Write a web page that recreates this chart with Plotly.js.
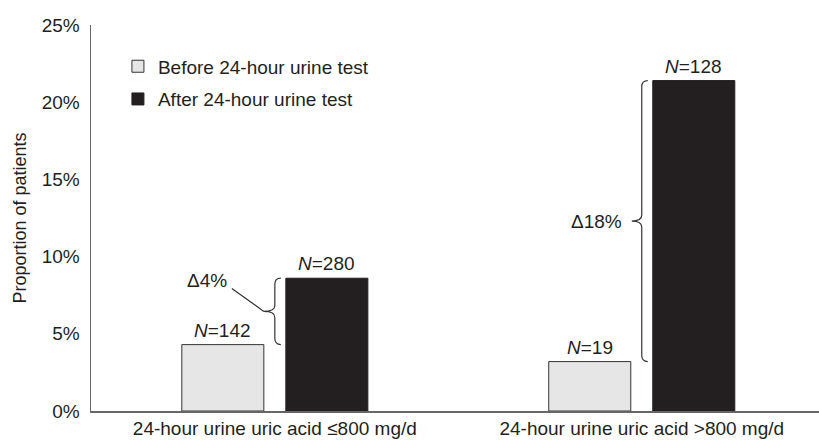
<!DOCTYPE html>
<html><head><meta charset="utf-8">
<script src="https://cdn.plot.ly/plotly-3.0.1.min.js"></script>
<style>html,body{margin:0;padding:0;background:#fff}#chart{width:819px;height:440px}</style>
</head><body><div id="chart"></div>
<script>
const categories = ['24-hour urine uric acid \u2264800 mg/d', '24-hour urine uric acid >800 mg/d'];
const seriesNames = ['Before 24-hour urine test', 'After 24-hour urine test'];
const beforeValues = [4.3, 3.2];
const afterValues = [8.6, 21.4];
const beforeN = [142, 19];
const afterN = [280, 128];
const deltaLabels = ['\u03944%', '\u039418%'];
const yTicks = [0, 5, 10, 15, 20, 25];
const yTickText = ['0%', '5%', '10%', '15%', '20%', '25%'];

const FONT = 'Liberation Sans, Arial, Helvetica, sans-serif';
const TXT = '#231f20';
const FS = 19;
const H = 440, T = 25, B = 29;
const pxPerY = (H - T - B) / 25;
const idx = categories.map((c, i) => i);
const barShift = 0.1417;

const traces = [
  {type: 'bar', name: seriesNames[0], x: idx, y: beforeValues, legendgroup: 'a',
   marker: {color: '#e6e6e6', line: {color: '#333', width: 1}}, hoverinfo: 'y'},
  {type: 'bar', name: seriesNames[1], x: idx, y: afterValues, legendgroup: 'b',
   marker: {color: '#231f20', line: {color: '#231f20', width: 1}}, hoverinfo: 'y'}
];

const annotations = [];
const shapes = [];
idx.forEach(i => {
  annotations.push({x: i - barShift, y: beforeValues[i], xref: 'x', yref: 'y', yanchor: 'bottom', yshift: 2,
    text: '<i>N</i>=' + beforeN[i], showarrow: false, font: {size: FS, color: TXT, family: FONT}});
  annotations.push({x: i + barShift, y: afterValues[i], xref: 'x', yref: 'y', yanchor: 'bottom', yshift: 2,
    text: '<i>N</i>=' + afterN[i], showarrow: false, font: {size: FS, color: TXT, family: FONT}});
  const y1 = afterValues[i], y2 = beforeValues[i], ym = (y1 + y2) / 2;
  const dy = 6 / pxPerY;
  const cusp = i === 0 ? -11 : -10;
  const path = 'M 6,' + y1 + ' Q 0,' + y1 + ' 0,' + (y1 - dy) +
    ' L 0,' + (ym + dy) + ' Q 0,' + ym + ' ' + cusp + ',' + ym +
    ' Q 0,' + ym + ' 0,' + (ym - dy) +
    ' L 0,' + (y2 + dy) + ' Q 0,' + y2 + ' 6,' + y2;
  shapes.push({type: 'path', xref: 'x', yref: 'y', xsizemode: 'pixel', xanchor: i,
    path: path, line: {color: '#333', width: 1.2}});
  if (i === 0) {
    shapes.push({type: 'line', xref: 'x', yref: 'y', xsizemode: 'pixel', ysizemode: 'pixel',
      xanchor: i, yanchor: ym, x0: -11, y0: 0, x1: -43, y1: 23, line: {color: '#333', width: 1.2}});
    annotations.push({x: i, y: ym, xref: 'x', yref: 'y', xanchor: 'right', yanchor: 'middle',
      xshift: -46, yshift: 31, text: deltaLabels[i], showarrow: false, font: {size: FS, color: TXT, family: FONT}});
  } else {
    annotations.push({x: i, y: ym, xref: 'x', yref: 'y', xanchor: 'right', yanchor: 'middle',
      xshift: -18, yshift: 0, text: deltaLabels[i], showarrow: false, font: {size: FS, color: TXT, family: FONT}});
  }
});

const layout = {
  width: 819, height: 440,
  margin: {l: 91, r: 0, t: T, b: B, pad: 0},
  paper_bgcolor: '#fff', plot_bgcolor: '#fff',
  font: {family: FONT, size: FS, color: TXT},
  barmode: 'group', bargap: 0.433, bargroupgap: 0.2115,
  showlegend: true,
  legend: {x: 0.037, y: 0.942, xanchor: 'left', yanchor: 'top', bgcolor: 'rgba(0,0,0,0)',
    font: {size: FS, color: TXT, family: FONT}, tracegroupgap: 5, itemclick: false},
  xaxis: {type: 'linear', range: [-0.501, 1.483], tickvals: idx, ticktext: categories,
    showline: true, linecolor: '#666', linewidth: 1.5, showgrid: false, zeroline: false, ticks: '',
    tickfont: {size: FS, color: TXT, family: FONT}, fixedrange: true},
  yaxis: {range: [0, 25], tickvals: yTicks, ticktext: yTickText, showline: true, linecolor: '#666',
    linewidth: 1.5, showgrid: false, zeroline: false, ticks: '', ticklabelstandoff: 6,
    tickfont: {size: FS, color: TXT, family: FONT},
    title: {text: 'Proportion of patients', font: {size: 18, color: TXT, family: FONT}, standoff: 10},
    fixedrange: true},
  annotations: annotations,
  shapes: shapes
};

Plotly.newPlot('chart', traces, layout, {displayModeBar: false, staticPlot: true});
</script>
</body></html>
